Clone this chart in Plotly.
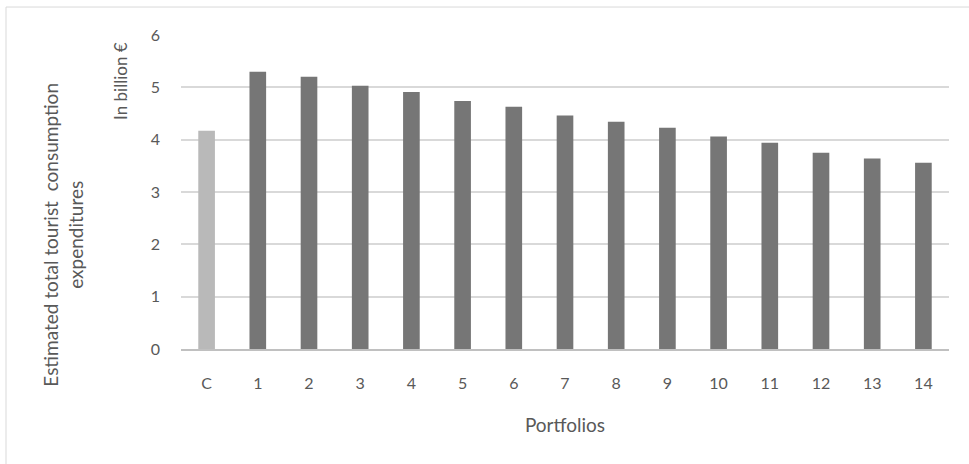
import plotly.graph_objects as go

# Portfolio categories (C = current situation) and estimated expenditures
categories = ["C", "1", "2", "3", "4", "5", "6", "7", "8", "9", "10", "11", "12", "13", "14"]
values = [4.17, 5.30, 5.20, 5.03, 4.91, 4.74, 4.63, 4.46, 4.34, 4.23, 4.06, 3.94, 3.75, 3.64, 3.56]
bar_colors = ["#b9b9b9"] + ["#767676"] * 14

y_ticks = [0, 1, 2, 3, 4, 5, 6]

W, H = 969, 464
L, R, T, B = 181, 20, 35, 114.5
plot_w = W - L - R
plot_h = H - T - B


def px_x(x):
    return (x - L) / plot_w


def px_y(y):
    return (H - B - y) / plot_h


FONT = "Lato, Carlito, Calibri, sans-serif"
TXT = "#595959"

fig = go.Figure(
    go.Bar(
        x=categories,
        y=values,
        marker=dict(color=bar_colors, line=dict(width=0)),
        hoverinfo="x+y",
    )
)

fig.update_layout(
    width=W,
    height=H,
    margin=dict(l=L, r=R, t=T, b=B),
    paper_bgcolor="white",
    plot_bgcolor="white",
    bargap=0.675,
    showlegend=False,
    font=dict(family=FONT, color=TXT, size=16),
)

fig.update_xaxes(
    type="category",
    showgrid=False,
    showline=True,
    linecolor="#c0c0c0",
    linewidth=1.5,
    ticks="",
    ticklabelstandoff=19,
    tickfont=dict(size=16, color=TXT),
    title=dict(text="Portfolios", font=dict(size=19, color=TXT), standoff=28),
    zeroline=False,
)

fig.update_yaxes(
    range=[0, 6],
    tickvals=y_ticks,
    showgrid=True,
    gridcolor="#d9d9d9",
    gridwidth=1.5,
    zeroline=False,
    showline=False,
    ticks="",
    ticklabelstandoff=20,
    tickfont=dict(size=16, color=TXT),
)

# Unit label next to the value axis
fig.add_annotation(
    text="In billion €",
    x=px_x(121), y=px_y(81),
    xref="paper", yref="paper",
    textangle=-90, showarrow=False,
    xanchor="center", yanchor="middle",
    font=dict(size=17, color=TXT),
)

# Main value-axis title (two lines)
fig.add_annotation(
    text="Estimated total tourist  consumption<br>expenditures",
    x=px_x(63), y=px_y(235),
    xref="paper", yref="paper",
    textangle=-90, showarrow=False,
    xanchor="center", yanchor="middle",
    font=dict(size=19, color=TXT),
)

# Chart frame
fig.add_shape(
    type="rect",
    xref="paper", yref="paper",
    x0=px_x(6), x1=px_x(W + 10),
    y0=px_y(H + 10), y1=px_y(7),
    line=dict(color="#d9d9d9", width=1),
    fillcolor="rgba(0,0,0,0)",
    layer="below",
)

fig.write_html("out.html")
